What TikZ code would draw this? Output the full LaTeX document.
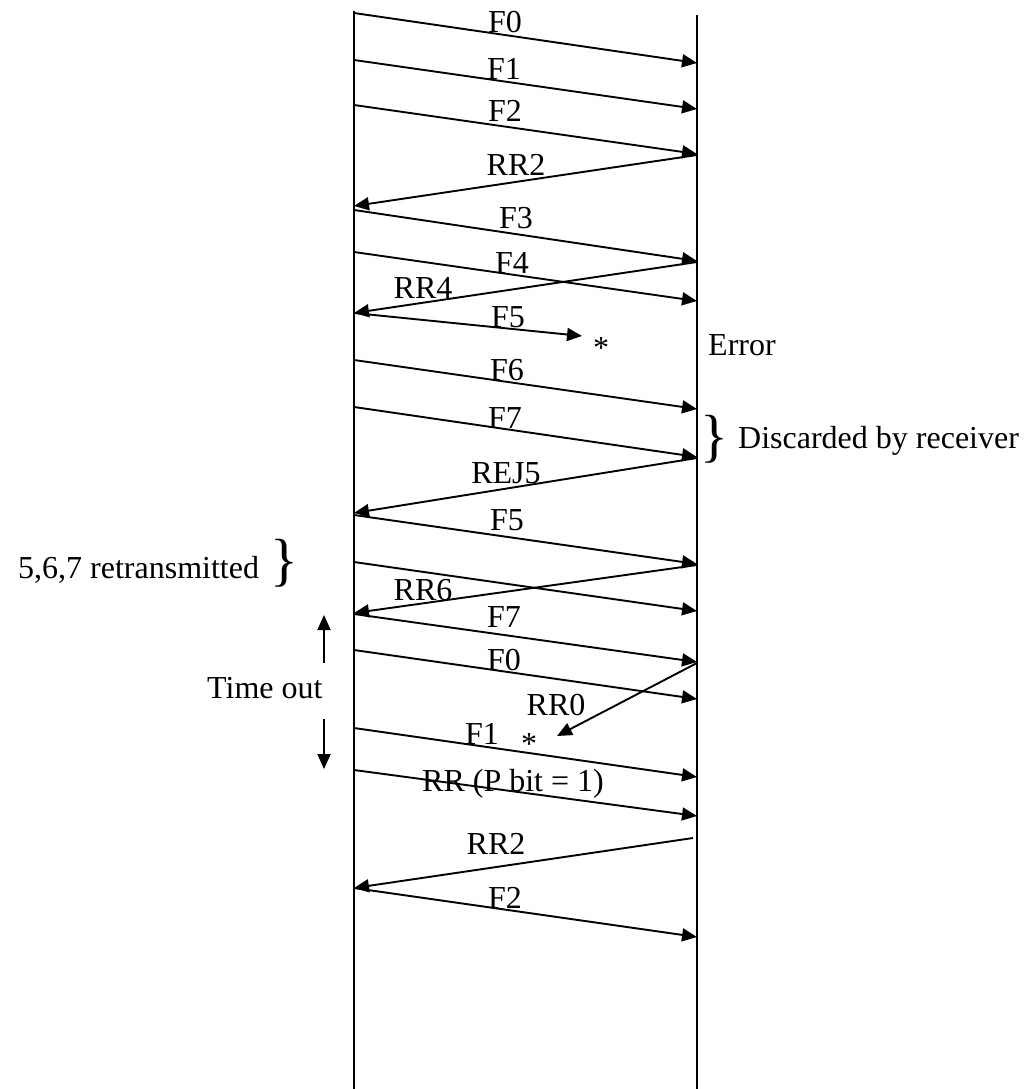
\documentclass[tikz,border=0pt]{standalone}
\usepackage{fontspec}
\setmainfont{Liberation Serif}
\usetikzlibrary{arrows.meta}
\begin{document}
\begin{tikzpicture}[x=1pt,y=-1pt,
  life/.style={line width=1.9pt},
  msg/.style={line width=1.9pt,-{Triangle[length=15pt,width=13pt]}},
  lbl/.style={inner sep=0pt,anchor=base,font=\fontsize{32}{38}\selectfont},
  txt/.style={inner sep=0pt,anchor=base west,font=\fontsize{32}{38}\selectfont},
  brc/.style={inner sep=0pt,anchor=center,font=\fontsize{58}{60}\selectfont}]
\useasboundingbox (0,0) rectangle (1028,1089);
% lifelines
\coordinate (Ltop) at (354,11); \coordinate (Lbot) at (354,1089);
\coordinate (Rtop) at (697,15); \coordinate (Rbot) at (697,1089);
\draw[life] (Ltop) -- (Lbot);
\draw[life] (Rtop) -- (Rbot);
% endpoints
\coordinate (a1) at (354,13);  \coordinate (b1) at (697,63);
\coordinate (a2) at (354,60);  \coordinate (b2) at (697,109);
\coordinate (a3) at (354,105); \coordinate (b3) at (697,154);
\coordinate (b4) at (697,155); \coordinate (a4) at (354,206);
\coordinate (a5) at (354,210); \coordinate (b5) at (697,261);
\coordinate (a6) at (354,252); \coordinate (b6) at (697,301);
\coordinate (b7) at (697,262); \coordinate (a7) at (354,313);
\coordinate (a8) at (354,313); \coordinate (b8) at (582,336);
\coordinate (a9) at (354,360); \coordinate (b9) at (697,409);
\coordinate (a10) at (354,407); \coordinate (b10) at (697,457);
\coordinate (b11) at (697,458); \coordinate (a11) at (354,513);
\coordinate (a12) at (354,515); \coordinate (b12) at (697,564);
\coordinate (a13) at (354,562); \coordinate (b13) at (697,611);
\coordinate (b14) at (697,565); \coordinate (a14) at (354,613);
\coordinate (a15) at (354,614); \coordinate (b15) at (697,662);
\coordinate (a16) at (354,650); \coordinate (b16) at (697,699);
\coordinate (b17) at (697,663); \coordinate (a17) at (557,736);
\coordinate (a18) at (354,728); \coordinate (b18) at (697,777);
\coordinate (a19) at (354,770); \coordinate (b19) at (697,816);
\coordinate (b20) at (693,838); \coordinate (a20) at (354,888);
\coordinate (a21) at (354,888); \coordinate (b21) at (697,937);
% messages
\draw[msg] (a1) -- (b1);
\draw[msg] (a2) -- (b2);
\draw[msg] (a3) -- (b3);
\draw[msg] (b4) -- (a4);
\draw[msg] (a5) -- (b5);
\draw[msg] (a6) -- (b6);
\draw[msg] (b7) -- (a7);
\draw[msg] (a8) -- (b8);
\draw[msg] (a9) -- (b9);
\draw[msg] (a10) -- (b10);
\draw[msg] (b11) -- (a11);
\draw[msg] (a12) -- (b12);
\draw[msg] (a13) -- (b13);
\draw[msg] (b14) -- (a14);
\draw[msg] (a15) -- (b15);
\draw[msg] (a16) -- (b16);
\draw[msg] (b17) -- (a17);
\draw[msg] (a18) -- (b18);
\draw[msg] (a19) -- (b19);
\draw[msg] (b20) -- (a20);
\draw[msg] (a21) -- (b21);
% labels
\node[lbl] (l1) at (505,33) {F0};
\node[lbl] (l2) at (504,80) {F1};
\node[lbl] (l3) at (505,122) {F2};
\node[lbl] (l4) at (516,175) {RR2};
\node[lbl] (l5) at (516,228) {F3};
\node[lbl] (l6) at (512,273) {F4};
\node[lbl] (l7) at (423,298) {RR4};
\node[lbl] (l8) at (508,327) {F5};
\node[lbl] (l9) at (507,380) {F6};
\node[lbl] (l10) at (505,428) {F7};
\node[lbl] (l11) at (506,483) {REJ5};
\node[lbl] (l12) at (507,530) {F5};
\node[lbl] (l14) at (423,600) {RR6};
\node[lbl] (l15) at (504,627) {F7};
\node[lbl] (l16) at (504,670) {F0};
\node[lbl] (l17) at (556,715) {RR0};
\node[lbl] (l18) at (482,744) {F1};
\node[lbl] (l19) at (513,791) {RR (P bit = 1)};
\node[lbl] (l20) at (496,854) {RR2};
\node[lbl] (l21) at (505,908) {F2};
\node[lbl] (star1) at (601,358) {*};
\node[lbl] (star2) at (529,754) {*};
% side annotations
\node[txt] (err) at (708,355) {Error};
\node[brc] (br1) at (714,439) {\}};
\node[txt] (disc) at (738,448) {Discarded by receiver};
\node[txt] (retx) at (18,578) {5,6,7 retransmitted};
\node[brc] (br2) at (284,563) {\}};
\node[txt] (tout) at (207,698) {Time out};
\coordinate (tu1) at (324,663); \coordinate (tu2) at (324,615);
\coordinate (td1) at (324,719); \coordinate (td2) at (324,769);
\draw[msg] (tu1) -- (tu2);
\draw[msg] (td1) -- (td2);
\end{tikzpicture}
\end{document}
